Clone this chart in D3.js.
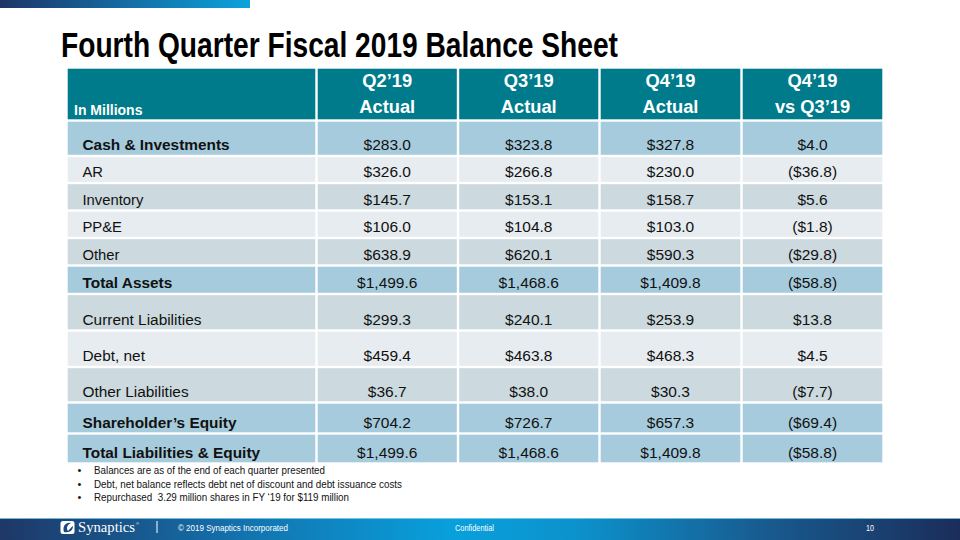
<!DOCTYPE html>
<html><head><meta charset="utf-8">
<script src="https://cdn.jsdelivr.net/npm/d3@7/dist/d3.min.js"></script>
<style>html,body{margin:0;padding:0;background:#fff;}svg{display:block;}</style>
</head><body>
<script>
// ---------- data ----------
const rowLabels = ["Cash & Investments","AR","Inventory","PP&E","Other","Total Assets",
  "Current Liabilities","Debt, net","Other Liabilities","Shareholder’s Equity","Total Liabilities & Equity"];
const q2Values = [283.0, 326.0, 145.7, 106.0, 638.9, 1499.6, 299.3, 459.4, 36.7, 704.2, 1499.6];
const q3Values = [323.8, 266.8, 153.1, 104.8, 620.1, 1468.6, 240.1, 463.8, 38.0, 726.7, 1468.6];
const q4Values = [327.8, 230.0, 158.7, 103.0, 590.3, 1409.8, 253.9, 468.3, 30.3, 657.3, 1409.8];
const diffValues = [4.0, -36.8, 5.6, -1.8, -29.8, -58.8, 13.8, 4.5, -7.7, -69.4, -58.8];
const headerLine1 = ["Q2’19","Q3’19","Q4’19","Q4’19"];
const headerLine2 = ["Actual","Actual","Actual","vs Q3’19"];
const boldRows = [0, 5, 9, 10];
const rowShade = ["blue","light","mid","light","mid","blue","mid","light","mid","blue","blue"];
const notes = ["Balances are as of the end of each quarter presented",
  "Debt, net balance reflects debt net of discount and debt issuance costs",
  "Repurchased  3.29 million shares in FY ‘19 for $119 million"];

// ---------- layout ----------
const W = 960, H = 540;
const colEdges = [66.5, 316.5, 458, 599.5, 741.5, 883.5];
const rowEdges = [67.5, 120.5, 156, 183, 210.5, 238, 265.5, 294, 330.5, 367, 402.5, 433.5, 463.5];
const noteWidths = [231, 308, 255];
const shadeColor = {blue:"#a6cbdc", light:"#e6ecef", mid:"#ccd9de"};
const teal = "#007b8c";
const sans = "'Liberation Sans', Arial, sans-serif";
const narrow = "'Liberation Sans Narrow', 'Arial Narrow', 'Liberation Sans', sans-serif";

const x = d3.scaleLinear().domain(d3.range(colEdges.length)).range(colEdges);
const y = d3.scaleLinear().domain(d3.range(rowEdges.length)).range(rowEdges);
const fmt = d3.format(",.1f");
const money = v => v < 0 ? "($" + fmt(-v) + ")" : "$" + fmt(v);

const svg = d3.select("body").append("svg").attr("width", W).attr("height", H);
const defs = svg.append("defs");
const gTop = defs.append("linearGradient").attr("id","gTop").attr("x1","0").attr("x2","1");
gTop.append("stop").attr("offset","0").attr("stop-color","#1e3567");
gTop.append("stop").attr("offset","1").attr("stop-color","#0ba3dd");
const gFoot = defs.append("linearGradient").attr("id","gFoot").attr("x1","0").attr("x2","1");
[["0","#1e3766"],["0.25","#1372ad"],["0.47","#08a0dc"],["0.6","#0c92cc"],["0.8","#185a8e"],["1","#1b2d5a"]]
  .forEach(s => gFoot.append("stop").attr("offset", s[0]).attr("stop-color", s[1]));

// top bar
svg.append("rect").attr("x",0).attr("y",0).attr("width",250).attr("height",8).attr("fill","url(#gTop)");

// title
svg.append("text").attr("x",61).attr("y",57)
  .attr("font-family", narrow).attr("font-weight","bold").attr("font-size",35).attr("fill","#000")
  .attr("textLength",557).attr("lengthAdjust","spacingAndGlyphs")
  .text("Fourth Quarter Fiscal 2019 Balance Sheet");

const inset = 1.2;
// header cells
const hdr = svg.append("g");
d3.range(5).forEach(c => {
  hdr.append("rect").attr("x", x(c)+inset).attr("y", y(0)+inset)
    .attr("width", x(c+1)-x(c)-2*inset).attr("height", y(1)-y(0)-2*inset).attr("fill", teal);
});
hdr.append("text").attr("x", x(0)+7.5).attr("y", y(1)-5.5)
  .attr("font-family", sans).attr("font-weight","bold").attr("font-size",14).attr("fill","#fff")
  .text("In Millions");
headerLine1.forEach((t,i) => {
  const cx = (x(i+1)+x(i+2))/2;
  hdr.append("text").attr("x",cx).attr("y",y(0)+19.5).attr("text-anchor","middle")
    .attr("font-family", sans).attr("font-weight","bold").attr("font-size",18.3).attr("fill","#fff").text(t);
  hdr.append("text").attr("x",cx).attr("y",y(1)-7.5).attr("text-anchor","middle")
    .attr("font-family", sans).attr("font-weight","bold").attr("font-size",18.3).attr("fill","#fff").text(headerLine2[i]);
});

// body rows
const series = [q2Values, q3Values, q4Values, diffValues];
const body = svg.append("g");
rowLabels.forEach((lab, r) => {
  const top = y(r+1), bot = y(r+2);
  const fill = shadeColor[rowShade[r]];
  d3.range(5).forEach(c => {
    body.append("rect").attr("x", x(c)+inset).attr("y", top+inset)
      .attr("width", x(c+1)-x(c)-2*inset).attr("height", bot-top-2*inset).attr("fill", fill);
  });
  const isBold = boldRows.includes(r);
  const small = (r >= 1 && r <= 4);
  body.append("text").attr("x", x(0)+16).attr("y", bot-6)
    .attr("font-family", sans).attr("font-weight", isBold ? "bold" : "normal")
    .attr("font-size", small ? 14.8 : 15.4).attr("fill","#111").text(lab);
  series.forEach((s, c) => {
    body.append("text").attr("x", (x(c+1)+x(c+2))/2).attr("y", bot-6).attr("text-anchor","middle")
      .attr("font-family", sans).attr("font-size", 15.5).attr("fill","#111").text(money(s[r]));
  });
});

// notes
notes.forEach((n, i) => {
  const by = 474 + i*13.5;
  svg.append("text").attr("x",77.5).attr("y",by).attr("font-family",sans).attr("font-size",11).attr("fill","#111").text("•");
  svg.append("text").attr("x",94).attr("y",by).attr("font-family",narrow).attr("font-size",11.8).attr("fill","#111")
    .attr("textLength", noteWidths[i]).attr("lengthAdjust","spacingAndGlyphs").attr("xml:space","preserve").text(n);
});

// footer
svg.append("rect").attr("x",0).attr("y",518).attr("width",W).attr("height",22).attr("fill","url(#gFoot)");
svg.append("rect").attr("x",0).attr("y",518).attr("width",W).attr("height",1).attr("fill","#8fd2ee").attr("opacity",0.8);
// logo icon
const logo = svg.append("g");
logo.append("rect").attr("x",60.5).attr("y",521).attr("width",14).attr("height",13).attr("rx",2.5).attr("fill","#fff");
logo.append("path").attr("d","M64,532 C62,526 66,522 71,523 C67,525 66,528 68,531 C70,529 71,527 73,526 C73,530 70,533 64,532 Z")
  .attr("fill","#1e4a7c");
svg.append("text").attr("x",78).attr("y",531.5).attr("font-family","'Liberation Serif', 'DejaVu Serif', serif")
  .attr("font-size",15).attr("fill","#fff").attr("textLength",57).attr("lengthAdjust","spacingAndGlyphs").text("Synaptics");
svg.append("text").attr("x",136).attr("y",524.5).attr("font-family",sans).attr("font-size",4).attr("fill","#fff").text("®");
svg.append("rect").attr("x",156.5).attr("y",521).attr("width",1).attr("height",12).attr("fill","#fff");
svg.append("text").attr("x",178).attr("y",530.5).attr("font-family",sans).attr("font-size",8.5).attr("fill","#fff")
  .attr("textLength",110).attr("lengthAdjust","spacingAndGlyphs").text("© 2019 Synaptics Incorporated");
svg.append("text").attr("x",455).attr("y",530.5).attr("font-family",sans).attr("font-size",8.5).attr("fill","#fff")
  .attr("textLength",39).attr("lengthAdjust","spacingAndGlyphs").text("Confidential");
svg.append("text").attr("x",866).attr("y",530.5).attr("font-family",sans).attr("font-size",8.5).attr("fill","#fff")
  .attr("textLength",8).attr("lengthAdjust","spacingAndGlyphs").text("10");
</script>
</body></html>
